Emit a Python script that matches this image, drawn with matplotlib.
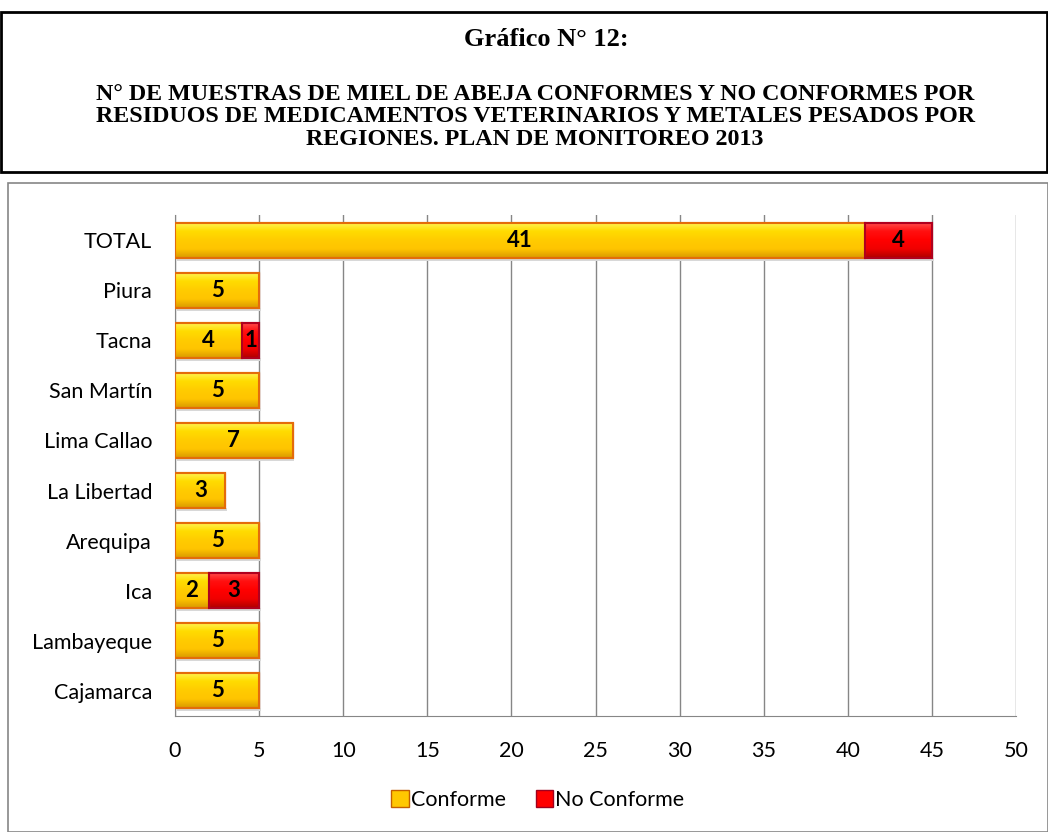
import matplotlib.pyplot as plt
from matplotlib.patches import Rectangle, Patch
from matplotlib.colors import to_rgb
import numpy as np

regiones = ['TOTAL', 'Piura', 'Tacna', 'San Martín', 'Lima Callao',
            'La Libertad', 'Arequipa', 'Ica', 'Lambayeque', 'Cajamarca']
conforme = [41, 5, 4, 5, 7, 3, 5, 2, 5, 5]
no_conforme = [4, 0, 1, 0, 0, 0, 0, 3, 0, 0]
ticks_x = [0, 5, 10, 15, 20, 25, 30, 35, 40, 45, 50]

W, H = 1048, 832
FONT = 'Lato'


def gradiente(colores, n=60):
    # degradado vertical (de arriba a abajo) para dar relieve a las barras
    pos = np.linspace(0, 1, len(colores))
    rgb = np.array([to_rgb(c) for c in colores])
    t = np.linspace(0, 1, n)
    g = np.stack([np.interp(t, pos, rgb[:, k]) for k in range(3)], axis=1)
    return g[:, None, :]


grad_amarillo = gradiente(['#FFF45A', '#FFDC00', '#FFCC00', '#FFC400', '#D99A00'])
grad_rojo = gradiente(['#FF5050', '#FF1010', '#FF0000', '#F00000', '#B00000'])

fig = plt.figure(figsize=(W / 100, H / 100), dpi=100)

# caja del titulo
fig.patches.append(Rectangle((1 / W, 1 - 172 / H), 1 - 2 / W, 160 / H,
                             transform=fig.transFigure, fill=False,
                             edgecolor='black', linewidth=2))
fig.text(546 / W, 1 - 40 / H, 'Gráfico N° 12:', ha='center', va='center',
         family='Liberation Serif', weight='bold', fontsize=19)
titulo = ('N° DE MUESTRAS DE MIEL DE ABEJA CONFORMES Y NO CONFORMES POR\n'
          'RESIDUOS DE MEDICAMENTOS VETERINARIOS Y METALES PESADOS POR\n'
          'REGIONES. PLAN DE MONITOREO 2013')
fig.text(535 / W, 1 - 117 / H, titulo, ha='center', va='center',
         family='Liberation Serif', weight='bold', fontsize=17.3, linespacing=1.12)

# caja del grafico
fig.patches.append(Rectangle((8 / W, 0), 1 - 8 / W, 1 - 183 / H,
                             transform=fig.transFigure, fill=False,
                             edgecolor='#868686', linewidth=1.2))

ax = fig.add_axes([175 / W, 1 - 716 / H, (1016 - 175) / W, (716 - 215) / H])
y = np.arange(len(regiones))
alto = 0.7

b1 = ax.barh(y, conforme, height=alto, color='#FFC800', edgecolor='#E46C0A',
             linewidth=1.5, zorder=3)
b2 = ax.barh(y, no_conforme, left=conforme, height=alto, color='#FF0000',
             edgecolor='#B0001E', linewidth=1.5, zorder=3)

for barras, grad in [(b1, grad_amarillo), (b2, grad_rojo)]:
    for p in barras:
        if p.get_width() <= 0:
            continue
        x0, y0 = p.get_x(), p.get_y()
        im = ax.imshow(grad, extent=(x0, x0 + p.get_width(), y0 + alto, y0),
                       origin='upper', aspect='auto', zorder=3.1,
                       interpolation='bilinear')
        im.set_clip_path(p)
        # borde encima del degradado
        ax.add_patch(Rectangle((x0, y0), p.get_width(), alto, fill=False,
                               edgecolor=p.get_edgecolor(), linewidth=1.5,
                               zorder=3.2))
        # sombra ligera bajo la barra
        ax.add_patch(Rectangle((x0 + 0.1, y0 + alto), p.get_width(), 0.06,
                               facecolor='#D8D8D8', edgecolor='none',
                               zorder=2.9))

for yi, c, n in zip(y, conforme, no_conforme):
    ax.text(c / 2, yi, str(c), ha='center', va='center', fontsize=16,
            weight='bold', family=FONT, zorder=4)
    if n > 0:
        ax.text(c + n / 2, yi, str(n), ha='center', va='center', fontsize=16,
                weight='bold', family=FONT, zorder=4)

ax.set_xlim(0, 50)
ax.set_ylim(len(regiones) - 0.5, -0.5)
ax.set_yticks(y)
ax.set_yticklabels(regiones, family=FONT, fontsize=15.5)
ax.set_xticks(ticks_x)
ax.set_xticklabels([str(t) for t in ticks_x], family=FONT, fontsize=15.5)
ax.tick_params(axis='y', length=0, pad=16.5)
ax.tick_params(axis='x', length=0, pad=18)
ax.grid(axis='x', color='#868686', linewidth=1, zorder=0)
for s in ['top', 'right']:
    ax.spines[s].set_visible(False)
for s in ['left', 'bottom']:
    ax.spines[s].set_color('#868686')

handles = [Patch(facecolor='#FFC800', edgecolor='#C46000', label='Conforme'),
           Patch(facecolor='#FF0000', edgecolor='#A0001E', label='No Conforme')]
ax.legend(handles=handles, loc='center', bbox_to_anchor=(538 / W, 1 - 800 / H),
          bbox_transform=fig.transFigure, ncol=2, frameon=False,
          prop={'family': FONT, 'size': 15.5}, handlelength=0.8,
          handleheight=0.8, handletextpad=0.1, columnspacing=1.4)

fig.savefig('out.png', dpi=100)
